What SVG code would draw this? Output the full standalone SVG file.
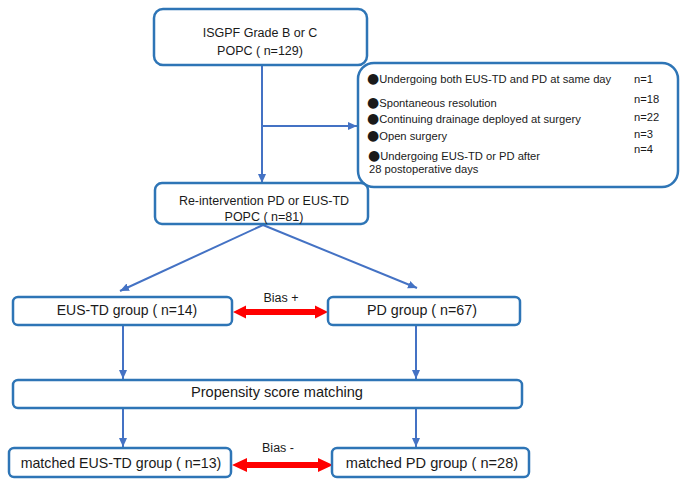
<svg xmlns="http://www.w3.org/2000/svg" width="682" height="483" viewBox="0 0 682 483">
<style>
.box{fill:#fff;stroke:#2E75B6;stroke-width:2.5}
.t{font-family:"Liberation Sans",Arial,sans-serif;fill:#1a1a1a;text-anchor:middle}
.s{font-family:"Liberation Sans",Arial,sans-serif;fill:#1a1a1a;font-size:11.2px}
.b{font-family:"DejaVu Sans",sans-serif;font-size:14px}
.c{stroke:#4472C4;stroke-width:2;fill:none;marker-end:url(#ah)}
.red{fill:#FF0000}
</style>
<defs>
<marker id="ah" markerUnits="userSpaceOnUse" markerWidth="10" markerHeight="10" refX="9" refY="5" orient="auto">
<path d="M0,1 L9,5 L0,9 Z" fill="#4472C4"/>
</marker>
</defs>
<rect width="682" height="483" fill="#fff"/>
<g id="connectors">
<line class="c" x1="262" y1="65" x2="262" y2="183"/>
<line class="c" x1="262" y1="126" x2="357" y2="126"/>
<line class="c" x1="263" y1="225" x2="120" y2="291"/>
<line class="c" x1="263" y1="225" x2="417" y2="288"/>
<line class="c" x1="123" y1="325" x2="123" y2="379"/>
<line class="c" x1="416" y1="325" x2="416" y2="379"/>
<line class="c" x1="123" y1="408" x2="123" y2="447"/>
<line class="c" x1="416" y1="408" x2="416" y2="447"/>
<polygon class="red" points="233,312 246,305.5 246,309 315,309 315,305.5 328,312 315,318.5 315,315 246,315 246,318.5"/>
<polygon class="red" points="232,465 247,458 247,462 318,462 318,458 333,465 318,472 318,468 247,468 247,472"/>
<text class="t" x="281" y="302" font-size="12.5">Bias +</text>
<text class="t" x="278" y="452" font-size="12.5">Bias -</text>
</g>
<g id="n_top">
<rect class="box" x="154" y="9" width="213" height="56" rx="9"/>
<text class="t" x="260" y="37" font-size="12.5">ISGPF Grade B or C</text>
<text class="t" x="260" y="55" font-size="12.5">POPC ( n=129)</text>
</g>
<g id="n_excluded">
<rect class="box" x="358" y="63" width="320" height="124" rx="16"/>
<text class="s" x="367" y="83"><tspan class="b">●</tspan>Undergoing both EUS-TD and PD at same day</text>
<text class="s" x="367" y="107"><tspan class="b">●</tspan>Spontaneous resolution</text>
<text class="s" x="367" y="123"><tspan class="b">●</tspan>Continuing drainage deployed at surgery</text>
<text class="s" x="367" y="140"><tspan class="b">●</tspan>Open surgery</text>
<text class="s" x="368" y="160"><tspan class="b">●</tspan>Undergoing EUS-TD or PD after</text>
<text class="s" x="369" y="173">28 postoperative days</text>
<text class="s" x="634" y="83">n=1</text>
<text class="s" x="634" y="103">n=18</text>
<text class="s" x="634" y="121">n=22</text>
<text class="s" x="634" y="138">n=3</text>
<text class="s" x="634" y="153">n=4</text>
</g>
<g id="n_reint">
<rect class="box" x="155" y="183" width="213" height="41" rx="7"/>
<text class="t" x="264" y="205" font-size="12.5">Re-intervention PD or EUS-TD</text>
<text class="t" x="264" y="221" font-size="12.5">POPC ( n=81)</text>
</g>
<g id="n_eus">
<rect class="box" x="13" y="297" width="219" height="28" rx="5"/>
<text class="t" x="127" y="315" font-size="14">EUS-TD group ( n=14)</text>
</g>
<g id="n_pd">
<rect class="box" x="328" y="297" width="192" height="28" rx="5"/>
<text class="t" x="422" y="315" font-size="14.3">PD group ( n=67)</text>
</g>
<g id="n_psm">
<rect class="box" x="13" y="380" width="509" height="28" rx="5"/>
<text class="t" x="277" y="397" font-size="14.6">Propensity score matching</text>
</g>
<g id="n_meus">
<rect class="box" x="9" y="448" width="222" height="29" rx="5"/>
<text class="t" x="121" y="468" font-size="14.2">matched EUS-TD group ( n=13)</text>
</g>
<g id="n_mpd">
<rect class="box" x="332" y="448" width="197" height="29" rx="5"/>
<text class="t" x="432" y="468" font-size="14.6">matched PD group ( n=28)</text>
</g>
</svg>
